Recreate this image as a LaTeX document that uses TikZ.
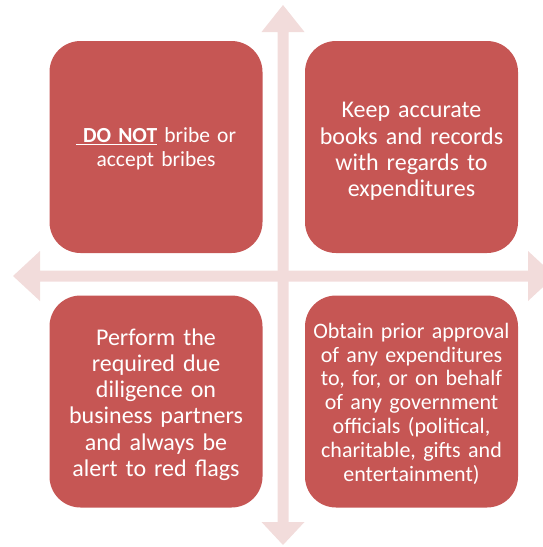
\documentclass[tikz,border=0pt]{standalone}
\usepackage{fontspec}
\setmainfont{Carlito}
\definecolor{boxred}{RGB}{198,86,84}
\definecolor{arrowpink}{RGB}{242,220,219}
\begin{document}
\begin{tikzpicture}[x=1pt,y=-1pt,
  quad/.style={rectangle, rounded corners=31pt, fill=boxred, draw=none,
    minimum width=213pt, minimum height=212pt, inner sep=0pt},
  txt/.style={text=white, align=center, inner sep=0pt, text width=208pt},
  axis/.style={fill=arrowpink, draw=none}]
\useasboundingbox (0,0) rectangle (543,547);
% vertical double arrow
\fill[axis] (283,5) -- (304.5,32) -- (288.5,32) -- (288.5,522) -- (304.5,522) -- (283,545)
  -- (261.5,522) -- (277.5,522) -- (277.5,32) -- (261.5,32) -- cycle;
% horizontal double arrow
\fill[axis] (13,276) -- (40,251) -- (40,270.5) -- (528,270.5) -- (528,251) -- (555,276)
  -- (528,301) -- (528,281.5) -- (40,281.5) -- (40,301) -- cycle;
% boxes
\node[quad] (tl) at (156,147) {};
\node[quad] (tr) at (411.5,147) {};
\node[quad] (bl) at (156,401.5) {};
\node[quad] (br) at (411.5,401.5) {};
% texts
\node[txt, font=\fontsize{21.5}{24.5}\selectfont] (tlt) at ([yshift=-2pt]tl.center)
  {\underline{\ \textbf{DO NOT}}\ bribe or\\accept bribes};
\node[txt, font=\fontsize{24}{26.3}\selectfont] (trt) at ([yshift=-4.5pt]tr.center)
  {Keep accurate\\books and records\\with regards to\\expenditures};
\node[txt, font=\fontsize{24}{26.3}\selectfont] (blt) at ([yshift=-3pt]bl.center)
  {Perform the\\required due\\diligence on\\business partners\\and always be\\alert to red flags};
\node[txt, font=\fontsize{22}{23.8}\selectfont] (brt) at ([yshift=-2pt]br.center)
  {Obtain prior approval\\of any expenditures\\to, for, or on behalf\\of any government\\officials (political,\\charitable, gifts and\\entertainment)};
\end{tikzpicture}
\end{document}
